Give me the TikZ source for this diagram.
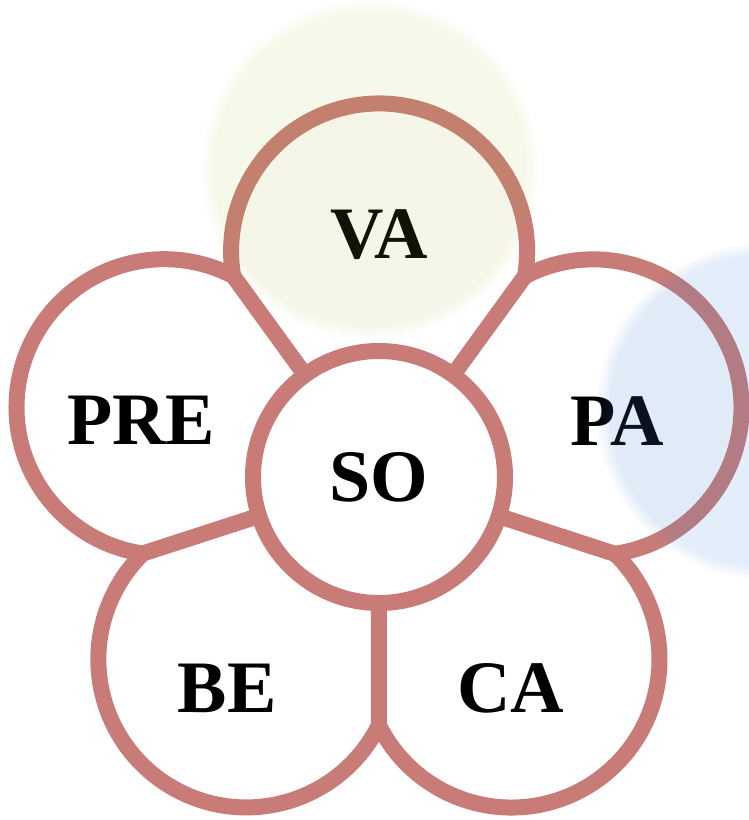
\documentclass[tikz,border=0pt]{standalone}
\usepackage{fontspec}
\setmainfont{Liberation Serif}
\definecolor{petalred}{RGB}{200,123,119}
\definecolor{glowyellow}{RGB}{176,203,71}
\definecolor{glowblue}{RGB}{70,130,220}

\begin{document}
\begin{tikzpicture}[x=1pt, y=1pt,
    petal/.style={draw=petalred, fill=white, line width=16pt, line join=round},
    word/.style={font=\bfseries\fontsize{74}{80}\selectfont, inner sep=0pt}]
  \useasboundingbox (0,0) rectangle (749,820);
  % centre of the flower
  \coordinate (T) at (379,343);
  % draw petals
  \draw[petal] (T) -- ++(126:248) arc[start angle=189.7, end angle=-9.7, radius=148] -- cycle; % VA
  \draw[petal] (T) -- ++(198:248) arc[start angle=261.7, end angle=62.3, radius=148] -- cycle; % PRE
  \draw[petal] (T) -- ++(270:248) arc[start angle=333.7, end angle=134.3, radius=148] -- cycle; % BE
  \draw[petal] (T) -- ++(342:248) arc[start angle=405.7, end angle=206.3, radius=148] -- cycle; % CA
  \draw[petal] (T) -- ++(54:248)  arc[start angle=117.7, end angle=-81.7, radius=148] -- cycle; % PA
  % draw centre circle
  \node (so) [circle, minimum size=252pt, draw=petalred, fill=white,
              line width=16pt, word] at (T) {SO};
  % draw labels
  \node[word] (va)  at (379,585) {VA};
  \node[word] (pa)  at (617,399) {PA};
  \node[word] (ca)  at (511,132) {CA};
  \node[word] (be)  at (227,132) {BE};
  \node[word] (pre) at (141,400) {PRE};
  % soft glow circles
  \foreach \rr in {157,160,163,166,169}
    \fill[glowyellow, opacity=0.024] (370,651) circle (\rr);
  \foreach \rr in {156,159,162,165,168}
    \fill[glowblue, opacity=0.032] (765,409) circle (\rr);
\end{tikzpicture}
\end{document}
